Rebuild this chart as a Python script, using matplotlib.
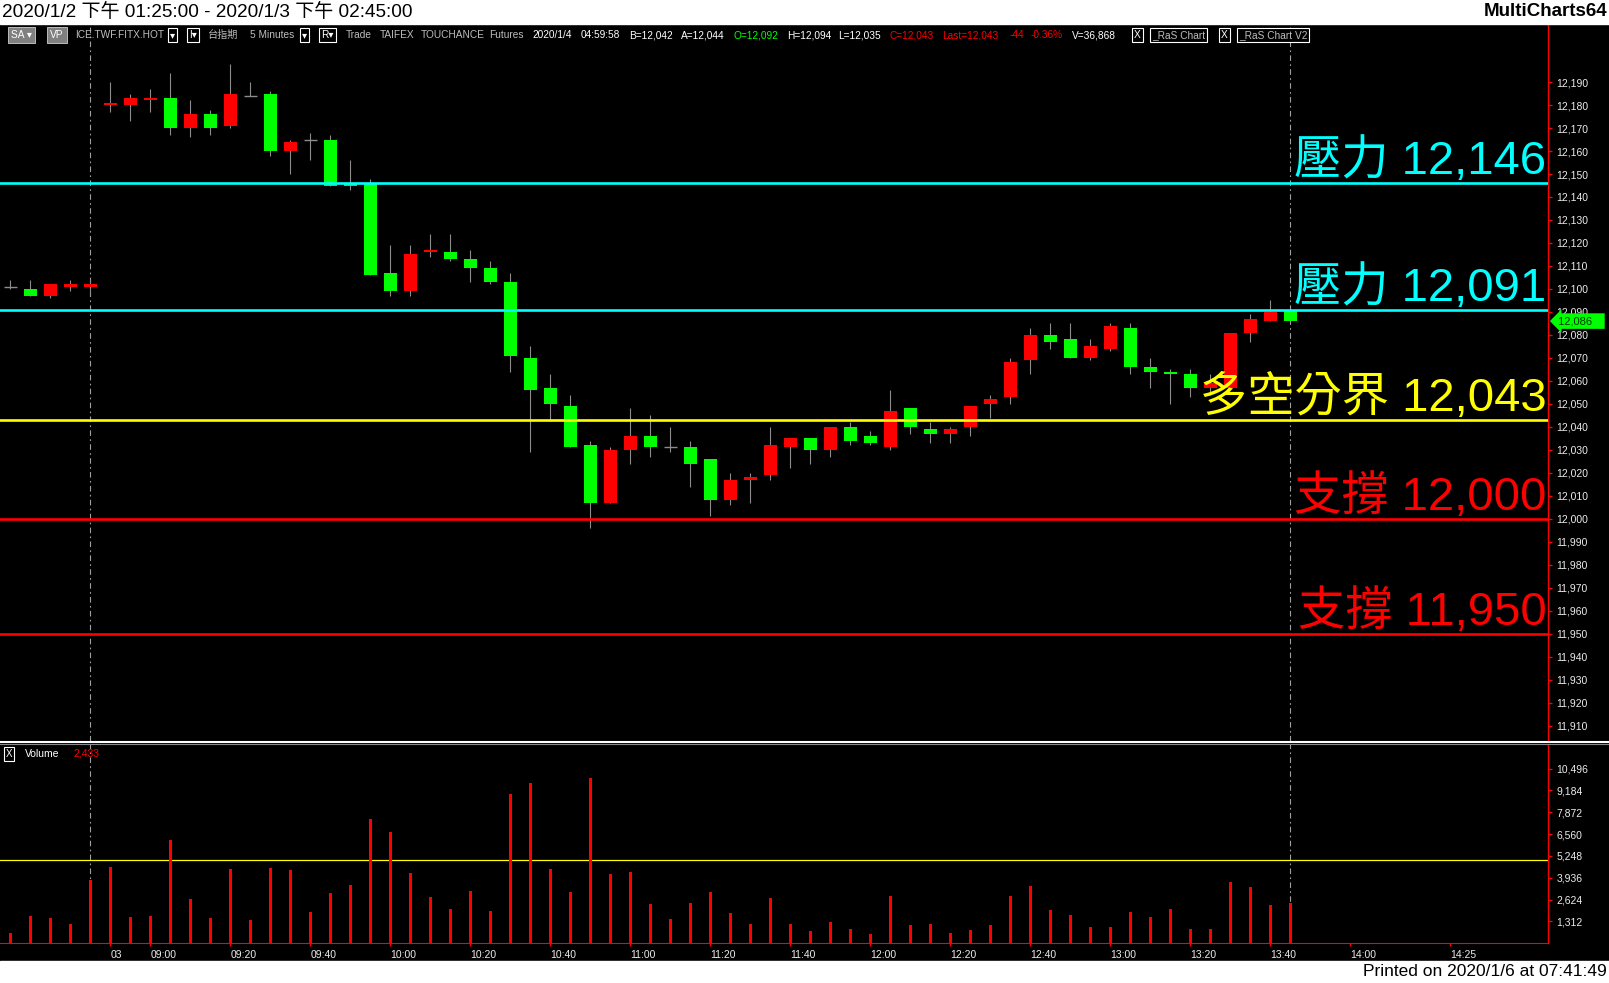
import matplotlib
matplotlib.use("agg")
import matplotlib.pyplot as plt
from matplotlib.patches import Rectangle
from matplotlib.lines import Line2D

plt.rcParams['font.family'] = ['Liberation Sans', 'DejaVu Sans', 'Noto Sans CJK TC']

# 5-minute bars: 5 night-session bars, then the day session 08:50 .. 13:45
opens = [12101, 12100, 12097, 12101, 12101,
         12180, 12180, 12182, 12183, 12170, 12176, 12171, 12184, 12185, 12160,
         12165, 12165, 12146, 12146, 12107, 12099, 12116, 12116, 12113, 12109,
         12103, 12070, 12057, 12049, 12032, 12007, 12030, 12036, 12031, 12031,
         12026, 12008, 12017, 12019, 12031, 12035, 12030, 12040, 12036, 12031,
         12048, 12039, 12037, 12040, 12050, 12053, 12069, 12080, 12078, 12070,
         12074, 12083, 12066, 12064, 12063, 12057, 12057, 12081, 12086, 12091]
highs = [12104, 12104, 12102, 12104, 12104,
         12190, 12185, 12187, 12194, 12182, 12178, 12198, 12190, 12186, 12165,
         12168, 12167, 12156, 12148, 12119, 12119, 12124, 12124, 12117, 12112,
         12107, 12075, 12063, 12054, 12034, 12031, 12048, 12045, 12040, 12034,
         12026, 12020, 12020, 12040, 12035, 12035, 12040, 12042, 12038, 12056,
         12048, 12042, 12040, 12049, 12054, 12070, 12083, 12085, 12085, 12078,
         12085, 12085, 12070, 12065, 12065, 12063, 12081, 12089, 12095, 12091]
lows = [12100, 12097, 12096, 12099, 12097,
        12177, 12173, 12177, 12167, 12166, 12167, 12170, 12184, 12158, 12150,
        12156, 12145, 12143, 12106, 12097, 12097, 12114, 12112, 12103, 12102,
        12064, 12029, 12043, 12031, 11996, 12007, 12024, 12027, 12029, 12014,
        12001, 12006, 12007, 12017, 12022, 12024, 12027, 12032, 12032, 12030,
        12037, 12033, 12033, 12036, 12044, 12050, 12063, 12074, 12070, 12069,
        12073, 12063, 12057, 12050, 12053, 12054, 12057, 12077, 12086, 12086]
closes = [12101, 12097, 12102, 12102, 12102,
          12181, 12183, 12183, 12170, 12176, 12170, 12185, 12184, 12160, 12164,
          12165, 12145, 12145, 12106, 12099, 12115, 12117, 12113, 12109, 12103,
          12071, 12056, 12050, 12031, 12007, 12030, 12036, 12031, 12031, 12024,
          12008, 12017, 12018, 12032, 12035, 12030, 12040, 12034, 12033, 12047,
          12040, 12037, 12039, 12049, 12052, 12068, 12080, 12077, 12070, 12075,
          12084, 12066, 12064, 12063, 12057, 12059, 12081, 12087, 12090, 12086]
volumes = [613, 1635, 1515, 1154, 3798,
           4580, 1575, 1635, 6202, 2656, 1515, 4459, 1394, 4520, 4399,
           1875, 3017, 3498, 7464, 6683, 4219, 2777, 2055, 3137, 1935,
           8967, 9628, 4459, 3077, 9929, 4159, 4279, 2356, 1454, 2416,
           3077, 1815, 1154, 2717, 1154, 733, 1274, 853, 553, 2837,
           1094, 1154, 613, 793, 1094, 2837, 3438, 1995, 1695, 974,
           974, 1875, 1575, 2055, 853, 853, 3678, 3378, 2296, 2433]
night_bars = 5
avg_volume = 5000

levels = [12146, 12091, 12043, 12000, 11950]
level_names = ["壓力", "壓力", "多空分界", "支撐", "支撐"]

price_ticks = list(range(11910, 12191, 10))
volume_ticks = [1312, 2624, 3936, 5248, 6560, 7872, 9184, 10496]
tick_times = ["08:50", "09:00", "09:20", "09:40", "10:00", "10:20", "10:40", "11:00", "11:20",
              "11:40", "12:00", "12:20", "12:40", "13:00", "13:20", "13:40", "14:00", "14:25"]
tick_labels = ["03"] + tick_times[1:]

W, H = 1609, 983


def fx(px):
    return px / W


def fy(py):
    return 1 - py / H


def bar_index(t):
    hh, mm = map(int, t.split(":"))
    return night_bars - 1 + ((hh * 60 + mm) - (8 * 60 + 45)) // 5


fig = plt.figure(figsize=(W / 100, H / 100), dpi=100, facecolor="black")
fig.patches.append(Rectangle((0, fy(24)), 1, 24 / H, transform=fig.transFigure,
                             color="white", zorder=0))
fig.patches.append(Rectangle((0, 0), 1, (H - 961) / H, transform=fig.transFigure,
                             color="white", zorder=0))

# price panel and volume panel
ax = fig.add_axes([0, fy(741), fx(1548), (741 - 24) / H], facecolor="black")
vax = fig.add_axes([0, fy(943.2), fx(1548), (943.2 - 744) / H], facecolor="black")

n = len(closes)
xs = list(range(n))
up = [c > o for o, c in zip(opens, closes)]
down = [c < o for o, c in zip(opens, closes)]
flat = [c == o for o, c in zip(opens, closes)]

ax.vlines(xs, lows, highs, color="#8c8c8c", lw=0.8, zorder=2)
for sel, col in ((up, "#ff0000"), (down, "#00ff00")):
    bx = [x for x, s in zip(xs, sel) if s]
    bot = [min(o, c) for o, c, s in zip(opens, closes, sel) if s]
    hgt = [abs(c - o) for o, c, s in zip(opens, closes, sel) if s]
    ax.bar(bx, hgt, bottom=bot, width=0.66, color=col, lw=0, zorder=3)
dx = [x for x, s in zip(xs, flat) if s]
dv = [o for o, s in zip(opens, flat) if s]
ax.hlines(dv, [x - 0.33 for x in dx], [x + 0.33 for x in dx], color="#8c8c8c", lw=1, zorder=3)

level_colors = ["#00ffff", "#00ffff", "#ffff00", "#ff0000", "#ff0000"]
for lv, name, col in zip(levels, level_names, level_colors):
    ax.axhline(lv, color=col, lw=1.9, zorder=4)
    ax.annotate(f"{name} {lv:,}", xy=(1, lv), xycoords=ax.get_yaxis_transform(),
                xytext=(-1, 6.5), textcoords="offset points", ha="right", va="baseline",
                fontsize=34, fontweight="light", color=col, zorder=6, annotation_clip=False)

ax.set_xlim(-0.51, 76.89)
ax.set_ylim(11903.27, 12215.28)
vax.set_xlim(-0.51, 76.89)
vax.set_ylim(0, 11972)

for a in (ax, vax):
    for s in a.spines.values():
        s.set_visible(False)
    a.spines["right"].set_visible(True)
    a.spines["right"].set_color("#ff0000")
    a.spines["right"].set_linewidth(1)
    a.yaxis.tick_right()
    a.tick_params(axis="y", colors="#ff0000", labelcolor="#ececec", length=3, width=1,
                  pad=3, labelsize=7.5)
ax.set_xticks([])
ax.set_yticks(price_ticks, [f"{v:,}" for v in price_ticks])

# last price tag
ax.annotate(f"{closes[-1]:,}   ", xy=(1, closes[-1]), xycoords=ax.get_yaxis_transform(),
            xytext=(7.5, 0), textcoords="offset points", ha="left", va="center",
            fontsize=8, color="#003300", zorder=10, annotation_clip=False,
            bbox=dict(boxstyle="larrow,pad=0.25", fc="#00ff00", ec="none"))

# volume panel
vax.spines["bottom"].set_visible(True)
vax.spines["bottom"].set_color("#ff0000")
vax.bar(xs, volumes, width=0.14, color="#ff0000", lw=0, zorder=3)
vax.axhline(avg_volume, color="#ffff00", lw=0.9, zorder=2)
vax.set_yticks(volume_ticks, [f"{v:,}" for v in volume_ticks])
vax.set_xticks([bar_index(t) for t in tick_times], tick_labels)
vax.tick_params(axis="x", colors="#ff0000", labelcolor="#ececec", length=2, width=1,
                pad=3, labelsize=7.5)
for lbl in vax.get_xticklabels():
    lbl.set_horizontalalignment("left")

# session break and last bar markers
for xv in (night_bars - 1, n - 1):
    for a in (ax, vax):
        a.axvline(xv, color="#a0a0a0", lw=0.8, ls=(0, (5, 3, 1.5, 3)), zorder=1)

# panel separator
fig.add_artist(Line2D([0, 1], [fy(741.7)] * 2, color="white", lw=1.5, transform=fig.transFigure))
fig.add_artist(Line2D([0, 1], [fy(743.6)] * 2, color="#8a8a8a", lw=0.8, transform=fig.transFigure))

# header / footer
fig.text(fx(2), fy(12), "2020/1/2 下午 01:25:00 - 2020/1/3 下午 02:45:00", fontsize=13.7,
         color="black", va="center", ha="left")
fig.text(fx(1607), fy(12), "MultiCharts64", fontsize=13.5, fontweight="bold",
         color="black", va="center", ha="right")
fig.text(fx(1607), fy(972), "Printed on 2020/1/6 at 07:41:49", fontsize=12.5,
         color="black", va="center", ha="right")

# toolbar
gray = "#bdbdbd"
items = [("SA ▾", 11, "white", "#808080"), ("VP", 50, "white", "#808080"),
         ("ICE.TWF.FITX.HOT", 75, gray, None), ("▾", 170, "white", "box"),
         ("I▾", 189, "white", "box"), ("台指期", 208, gray, None),
         ("5 Minutes", 250, gray, None), ("▾", 302, "white", "box"),
         ("R▾", 321, "white", "box"), ("Trade", 346, gray, None),
         ("TAIFEX", 380, gray, None), ("TOUCHANCE", 421, gray, None),
         ("Futures", 489, gray, None), ("2020/1/4", 532, "white", None),
         ("04:59:58", 581, "white", None), ("B=12,042", 629, "white", None),
         ("A=12,044", 681, "white", None), ("O=12,092", 734, "#00ff00", None),
         ("H=12,094", 787, "white", None), ("L=12,035", 838, "white", None),
         ("C=12,043", 890, "#ff0000", None), ("Last=12,043", 942, "#ff0000", None),
         ("-44", 1010, "#ff0000", None), ("-0.36%", 1031, "#ff0000", None),
         ("V=36,868", 1072, "white", None), ("X", 1134, "white", "box"),
         ("_RaS Chart", 1152, gray, "box"), ("X", 1221, "white", "box"),
         ("_RaS Chart V2", 1239, gray, "box")]
for txt, xp, col, box in items:
    kw = {}
    if box == "box":
        kw["bbox"] = dict(boxstyle="square,pad=0.2", fc="black", ec="white", lw=0.8)
    elif box:
        kw["bbox"] = dict(boxstyle="square,pad=0.3", fc=box, ec="#d0d0d0", lw=0.6)
    fig.text(fx(xp), fy(35), txt, fontsize=7.3, color=col, va="center", ha="left", **kw)

fig.text(fx(6), fy(754), "X", fontsize=7, color="white", va="center", ha="left",
         bbox=dict(boxstyle="square,pad=0.2", fc="black", ec="white", lw=0.8))
fig.text(fx(25), fy(754), "Volume", fontsize=7.5, color="white", va="center", ha="left")
fig.text(fx(73), fy(754), f"{volumes[-1]:,}", fontsize=7.5, color="#ff0000",
         va="center", ha="left")

fig.savefig("out.png", dpi=100, facecolor="black")
